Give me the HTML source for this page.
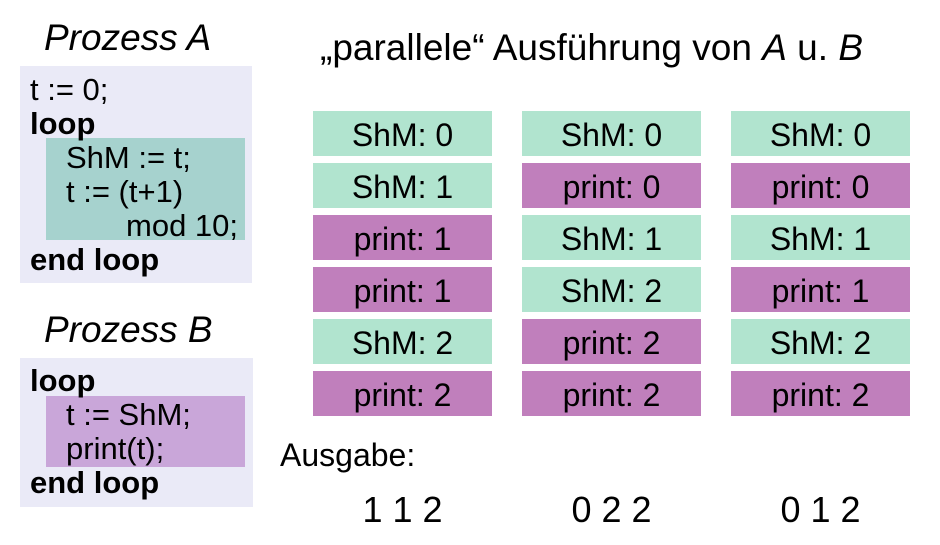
<!DOCTYPE html>
<html><head><meta charset="utf-8"><style>
body{margin:0;width:940px;height:545px;background:#fff;position:relative;overflow:hidden;font-family:"Liberation Sans",sans-serif;color:#000}
.a{position:absolute;white-space:nowrap}
.cell{position:absolute;width:179px;height:45px;line-height:49px;text-align:center;font-size:32px}
.code{font-size:31px;line-height:34px}
.code div{height:34px}
b{font-weight:bold}
</style></head><body>
<div class="a" style="left:44px;top:17px;font-size:37px;line-height:42px;font-style:italic">Prozess A</div>
<div class="a" style="left:20px;top:66px;width:232px;height:217px;background:#eaeaf7"></div>
<div class="a" style="left:46px;top:138px;width:199px;height:102px;background:#a6d2ce"></div>
<div class="a code" style="left:30px;top:73px">
<div>t := 0;</div><div><b>loop</b></div><div style="padding-left:36px">ShM := t;</div><div style="padding-left:36px">t := (t+1)</div><div style="padding-left:96px">mod 10;</div><div><b>end loop</b></div></div>

<div class="a" style="left:44px;top:309px;font-size:37px;line-height:42px;font-style:italic">Prozess B</div>
<div class="a" style="left:20px;top:358px;width:233px;height:149px;background:#eaeaf7"></div>
<div class="a" style="left:46px;top:396px;width:199px;height:71px;background:#c9a6d9"></div>
<div class="a code" style="left:30px;top:364px">
<div><b>loop</b></div><div style="padding-left:36px">t := ShM;</div><div style="padding-left:36px">print(t);</div><div><b>end loop</b></div></div>

<div class="a" style="left:320px;top:27px;font-size:37px;line-height:42px">„parallele“ Ausführung von <i>A</i> u. <i>B</i></div>
<div class="a" style="left:280px;top:436px;font-size:32px;line-height:38px">Ausgabe:</div>
<div id="grid"></div>
<script>
const colX=[313,522,731];
const cols=[
 ["ShM: 0","ShM: 1","print: 1","print: 1","ShM: 2","print: 2"],
 ["ShM: 0","print: 0","ShM: 1","ShM: 2","print: 2","print: 2"],
 ["ShM: 0","print: 0","ShM: 1","print: 1","ShM: 2","print: 2"]];
const outputs=["1 1 2","0 2 2","0 1 2"];
const g=document.getElementById('grid');
cols.forEach((c,i)=>{
 c.forEach((t,j)=>{
  const d=document.createElement('div');
  d.className='cell';
  
  
  d.style.left=colX[i]+'px';d.style.top=(111+52*j)+'px';
  d.style.background=t.startsWith('ShM')?'#b1e4cf':'#c07fbc';
  d.textContent=t;g.appendChild(d);
 });
 const o=document.createElement('div');
 o.className='a';
 
 
 o.style.left=colX[i]+'px';o.style.width='179px';o.style.textAlign='center';
 o.style.top='489px';o.style.fontSize='36px';o.style.lineHeight='42px';
 o.textContent=outputs[i];g.appendChild(o);
});
</script>
</body></html>
